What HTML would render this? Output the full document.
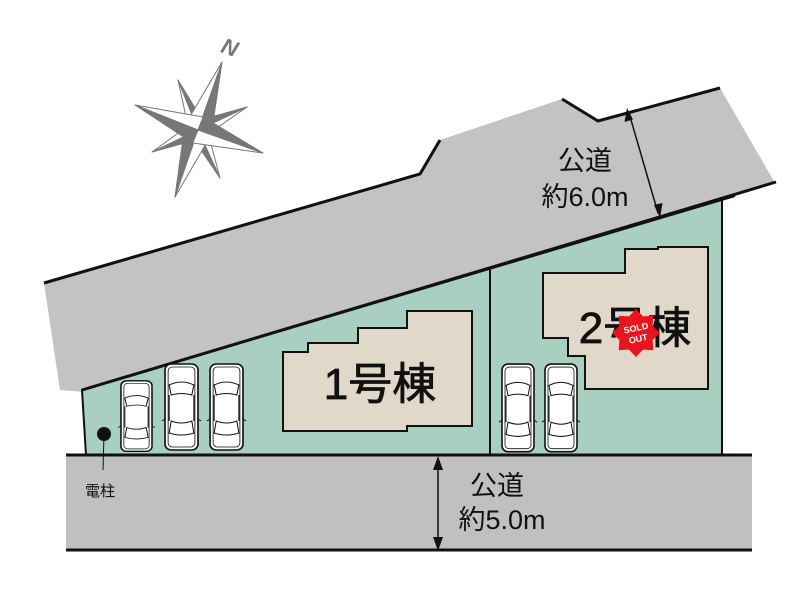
<!DOCTYPE html>
<html><head><meta charset="utf-8"><style>
html,body{margin:0;padding:0;background:#fff;}
svg{display:block;}
text{font-family:"Liberation Sans","Noto Sans CJK JP",sans-serif;}
</style></head><body>
<svg width="800" height="599" viewBox="0 0 800 599" xmlns="http://www.w3.org/2000/svg">
<defs>
<g id="car">
  <rect x="1" y="1" width="32" height="86" rx="6" fill="#fff" stroke="#111" stroke-width="1.6"/>
  <rect x="4" y="4" width="26" height="80" rx="4" fill="none" stroke="#111" stroke-width="0.8"/>
  <path d="M5 22 Q17 16 29 22 L27 32 Q17 29 7 32 Z" fill="#fff" stroke="#111" stroke-width="1"/>
  <path d="M7 58 Q17 62 27 58 L29 70 Q17 74 5 70 Z" fill="#fff" stroke="#111" stroke-width="1"/>
  <line x1="5" y1="32" x2="5" y2="58" stroke="#111" stroke-width="1"/>
  <line x1="29" y1="32" x2="29" y2="58" stroke="#111" stroke-width="1"/>
  <path d="M1 56 L-2 58 M33 56 L36 58" stroke="#111" stroke-width="1"/>
</g>
</defs>
<!-- top road -->
<polygon points="44,283 420,174 440,140 562,99 598,121 720,88 775,183 85,392 60,390" fill="#c3c3c3"/>
<polyline points="44,283 420,174 440,140" fill="none" stroke="#111" stroke-width="3"/>
<polyline points="562,99 598,121 720,88" fill="none" stroke="#111" stroke-width="3"/>
<!-- lot -->
<polygon points="82,390 735,196 722,199 722,455 86,455" fill="#a8cfbf" stroke="#111" stroke-width="2"/>
<line x1="82" y1="390" x2="776" y2="182" stroke="#111" stroke-width="3"/>
<line x1="490" y1="268" x2="490" y2="455" stroke="#111" stroke-width="2"/>
<!-- bottom road -->
<rect x="66" y="455" width="686" height="95" fill="#c0c0c0"/>
<line x1="66" y1="455" x2="752" y2="455" stroke="#111" stroke-width="3"/>
<line x1="66" y1="550" x2="752" y2="550" stroke="#111" stroke-width="3"/>
<!-- buildings -->
<polygon points="283,352 308,352 308,343 358,343 358,328 407,328 407,311 472,311 472,426 407,426 407,431 283,431" fill="#e0d8c8" stroke="#111" stroke-width="2"/>
<text x="380" y="399" font-size="44" text-anchor="middle" fill="#111" stroke="#111" stroke-width="0.8">1号棟</text>
<polygon points="543,273 625,273 625,249 658,249 658,247 708,247 708,389 585,389 585,356 568,356 568,338 543,338" fill="#e0d8c8" stroke="#111" stroke-width="2"/>
<text x="635" y="343" font-size="44" text-anchor="middle" fill="#111" stroke="#111" stroke-width="0.8">2号棟</text>
<polygon points="660,333 652.6,340 653.3,350.3 643,349.6 636,357 629,349.6 618.7,350.3 619.4,340 612,333 619.4,326 618.7,315.7 629,316.4 636,309 643,316.4 653.3,315.7 652.6,326" fill="#e8141e"/>
<text x="637" y="331" font-size="9" font-weight="bold" fill="#fff" text-anchor="middle" transform="rotate(-12 637 333)">SOLD</text>
<text x="637" y="342" font-size="9" font-weight="bold" fill="#fff" text-anchor="middle" transform="rotate(-12 637 333)">OUT</text>
<!-- cars -->
<use href="#car" transform="translate(120,380) scale(0.97,0.82)"/>
<use href="#car" transform="translate(164,363) scale(1.03,1.0)"/>
<use href="#car" transform="translate(209,363) scale(1.03,1.0)"/>
<use href="#car" transform="translate(501,363) scale(1.0,1.02)"/>
<use href="#car" transform="translate(544,363) scale(1.0,1.02)"/>
<!-- pole -->
<circle cx="104" cy="434" r="7" fill="#111"/>
<line x1="104" y1="434" x2="103" y2="470" stroke="#111" stroke-width="1"/>
<text x="100" y="496" font-size="15" text-anchor="middle" fill="#111">電柱</text>
<!-- dims -->
<line x1="629" y1="113" x2="658" y2="213" stroke="#111" stroke-width="1.5"/>
<polygon points="627,108 624.5,122 633,119.5" fill="#111"/>
<polygon points="660,218 654,205 662.5,203" fill="#111"/>
<text x="585" y="170" font-size="27" text-anchor="middle" fill="#111">公道</text>
<text x="585" y="206" font-size="27" text-anchor="middle" fill="#111">約6.0m</text>
<line x1="438" y1="460" x2="438" y2="546" stroke="#111" stroke-width="1.5"/>
<polygon points="438,456 433,470 443,470" fill="#111"/>
<polygon points="438,551 433,537 443,537" fill="#111"/>
<text x="497" y="495" font-size="27" text-anchor="middle" fill="#111">公道</text>
<text x="502" y="529" font-size="27" text-anchor="middle" fill="#111">約5.0m</text>
<!-- compass -->
<g stroke="#777" stroke-width="1" stroke-linejoin="round">
<polygon points="198,130 178,80 206.4,126.6" fill="#777"/><polygon points="198,130 178,80 189.6,133.4" fill="#fff"/>
<polygon points="198,130 220,178 206.4,126.6" fill="#fff"/><polygon points="198,130 220,178 189.6,133.4" fill="#777"/>
<polygon points="198,130 247,107 201.9,138.3" fill="#fff"/><polygon points="198,130 247,107 194.1,121.7" fill="#777"/>
<polygon points="198,130 152,152 201.9,138.3" fill="#777"/><polygon points="198,130 152,152 194.1,121.7" fill="#fff"/>
<polygon points="198,130 222,62 211.2,134.7" fill="#777"/><polygon points="198,130 222,62 184.8,125.3" fill="#fff"/>
<polygon points="198,130 175,197 211.2,134.7" fill="#fff"/><polygon points="198,130 175,197 184.8,125.3" fill="#777"/>
<polygon points="198,130 135,105 203.2,117" fill="#fff"/><polygon points="198,130 135,105 192.8,143" fill="#777"/>
<polygon points="198,130 263,153 203.2,117" fill="#777"/><polygon points="198,130 263,153 192.8,143" fill="#fff"/>
</g>
<text x="230" y="55" font-size="22" font-weight="bold" font-style="italic" fill="#777" text-anchor="middle" transform="rotate(20 230 47)">N</text>
</svg>
</body></html>
